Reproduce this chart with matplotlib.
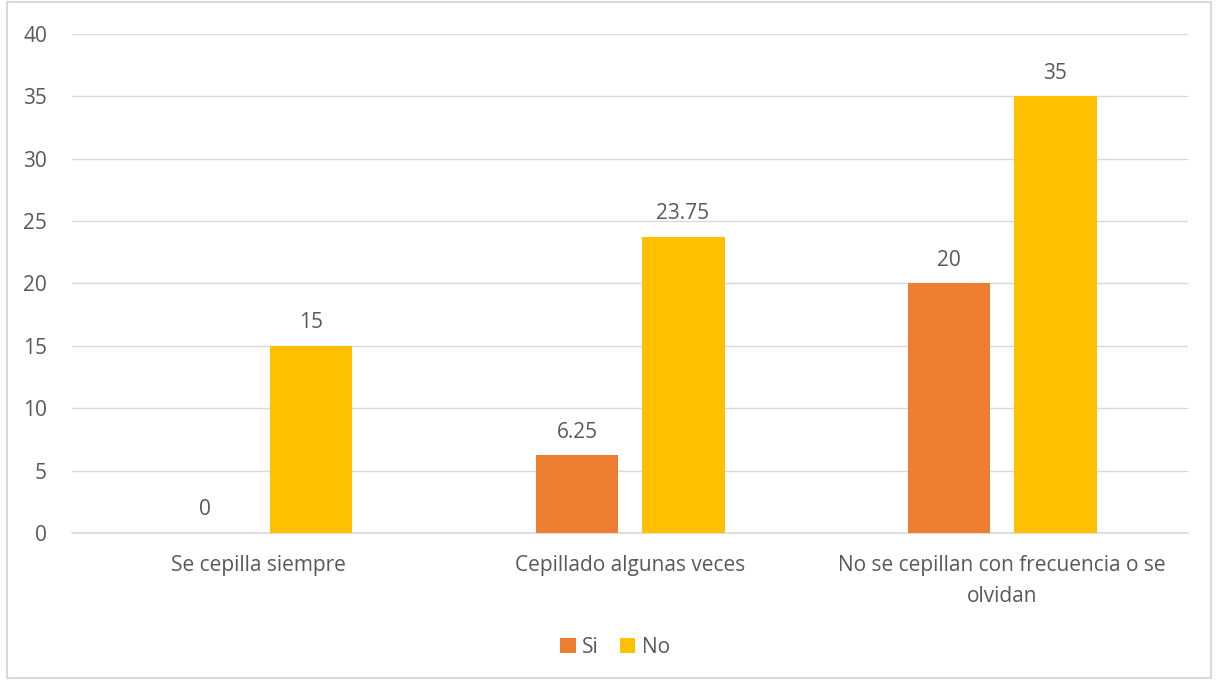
import matplotlib
matplotlib.use("Agg")
import matplotlib.pyplot as plt
from matplotlib.patches import Rectangle
import numpy as np

plt.rcParams['font.family'] = ['Open Sans', 'DejaVu Sans']

categorias = ["Se cepilla siempre", "Cepillado algunas veces",
              "No se cepillan con frecuencia o se\nolvidan"]
valores_si = [0, 6.25, 20]
valores_no = [15, 23.75, 35]
etiquetas_si = ["0", "6.25", "20"]
etiquetas_no = ["15", "23.75", "35"]

color_si = "#ED7D31"
color_no = "#FFC000"
color_texto = "#595959"
color_grid = "#D9D9D9"
tam = 15

fig = plt.figure(figsize=(12.18, 6.8), dpi=100)
ax = fig.add_axes([0.0591, 0.2162, 0.9163, 0.7338])

x = np.arange(len(categorias))
ancho = 0.223
desp = 0.1425

barras_si = ax.bar(x - desp, valores_si, ancho, color=color_si, label="Si", zorder=3)
barras_no = ax.bar(x + desp, valores_no, ancho, color=color_no, label="No", zorder=3)

for b, t in zip(barras_si, etiquetas_si):
    ax.annotate(t, (b.get_x() + b.get_width() / 2, b.get_height()),
                xytext=(0, 9), textcoords="offset points", ha="center", va="bottom",
                fontsize=tam, color=color_texto)
for b, t in zip(barras_no, etiquetas_no):
    ax.annotate(t, (b.get_x() + b.get_width() / 2, b.get_height()),
                xytext=(0, 9), textcoords="offset points", ha="center", va="bottom",
                fontsize=tam, color=color_texto)

ax.set_xlim(-0.5, 2.5)
ax.set_ylim(0, 40)
ax.set_yticks(range(0, 41, 5))
ax.yaxis.grid(True, color=color_grid, linewidth=1, zorder=0)
ax.set_xticks(x)
ax.set_xticklabels(categorias, fontsize=tam, color=color_texto, linespacing=1.6)
ax.tick_params(axis="y", labelsize=tam, labelcolor=color_texto, length=0, pad=18)
ax.tick_params(axis="x", length=0, pad=16)
for lado in ["top", "right", "left"]:
    ax.spines[lado].set_visible(False)
ax.spines["bottom"].set_color(color_grid)
ax.spines["bottom"].set_linewidth(1.2)

leg = fig.legend(loc="center", bbox_to_anchor=(0.505, 0.048), ncol=2, frameon=False,
                 fontsize=tam, handlelength=0.75, handleheight=0.75, handletextpad=0.3,
                 columnspacing=1.0)
for t in leg.get_texts():
    t.set_color(color_texto)

fig.patches.append(Rectangle((0.006, 0.003), 0.988, 0.994, transform=fig.transFigure,
                             fill=False, edgecolor=color_grid, linewidth=1.5))

fig.savefig("out.png", dpi=100)
